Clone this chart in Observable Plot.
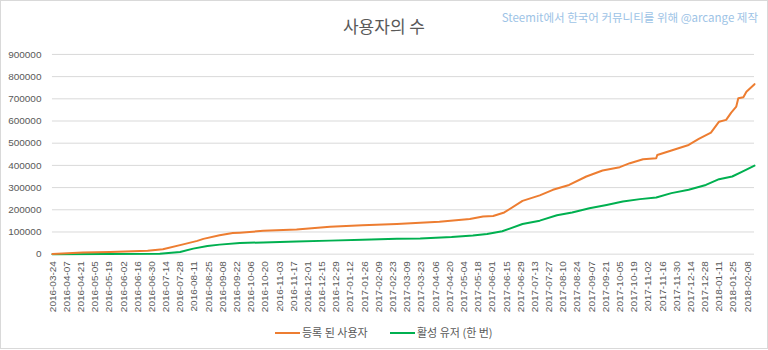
<!DOCTYPE html>
<html>
<head>
<meta charset="utf-8">
<script src="https://cdn.jsdelivr.net/npm/d3@7"></script>
<script src="https://cdn.jsdelivr.net/npm/@observablehq/plot@0.6"></script>
<style>
  body { margin: 0; background: #fff; }
  #wrap { position: relative; width: 768px; height: 349px; box-sizing: border-box; border: 1px solid #d9d9d9; overflow: hidden; font-family: "Noto Sans CJK KR", "Noto Sans", sans-serif; }
  #chart { position: absolute; left: -1px; top: -1px; }
  #title { position: absolute; left: -1px; top: 15px; width: 768px; text-align: center; font-size: 17px; line-height: 20px; color: #595959; }
  #credit { position: absolute; right: 9px; top: 9px; font-size: 11.5px; line-height: 14px; color: #9dc3e6; white-space: nowrap; }
  .leg { position: absolute; top: 323px; font-size: 11px; line-height: 16px; color: #595959; white-space: nowrap; }
  .leg span.sw { display: inline-block; width: 25px; height: 2px; vertical-align: middle; margin-right: 2px; position: relative; top: -1px; }
</style>
</head>
<body>
<div id="wrap">
  <div id="chart"></div>
  <div id="title"></div>
  <div id="credit"></div>
  <div class="leg" id="leg1" style="left:274px"></div>
  <div class="leg" id="leg2" style="left:389px"></div>
</div>
<script>
const chartTitle = "사용자의 수";
const creditText = "Steemit에서 한국어 커뮤니티를 위해 @arcange 제작";
const seriesNames = ["등록 된 사용자", "활성 유저 (한 번)"];
const seriesColors = ["#ed7d31", "#00b050"];

const registeredDates = [
  "2016-03-24","2016-04-03","2016-04-23","2016-05-20","2016-06-26","2016-07-11",
  "2016-07-31","2016-08-14","2016-08-20","2016-09-05","2016-09-18","2016-09-25",
  "2016-10-18","2016-11-20","2016-12-23","2017-01-24","2017-02-27","2017-03-22",
  "2017-04-10","2017-05-10","2017-05-23","2017-06-02","2017-06-13","2017-07-01",
  "2017-07-18","2017-07-31","2017-08-16","2017-09-02","2017-09-18","2017-10-05",
  "2017-10-15","2017-10-28","2017-11-10","2017-11-11","2017-11-25","2017-12-12",
  "2017-12-22","2018-01-03","2018-01-11","2018-01-18","2018-01-23","2018-01-28",
  "2018-01-30","2018-02-04","2018-02-07","2018-02-15"
];
const registeredUsers = [
  1000, 3000, 8000, 10000, 15000, 22000,
  44000, 60000, 69000, 85000, 95000, 97000,
  105000, 111000, 123000, 130000, 136000, 142000,
  146000, 158000, 170000, 172000, 188000, 240000,
  265000, 290000, 312000, 350000, 377000, 392000,
  410000, 428000, 432000, 447000, 467000, 492000,
  519000, 548000, 597000, 605000, 638000, 665000,
  703000, 707000, 732000, 766000
];

const activeDates = [
  "2016-03-24","2016-07-08","2016-07-28","2016-08-10","2016-08-24","2016-09-05",
  "2016-09-25","2016-10-18","2016-11-20","2016-12-23","2017-01-24","2017-02-27",
  "2017-03-22","2017-04-22","2017-05-13","2017-05-27","2017-06-11","2017-07-01",
  "2017-07-18","2017-08-04","2017-08-19","2017-09-05","2017-09-22","2017-10-08",
  "2017-10-25","2017-11-10","2017-11-25","2017-12-12","2017-12-29","2018-01-11",
  "2018-01-24","2018-02-03","2018-02-15"
];
const activeUsers = [
  0, 2000, 10000, 25000, 37000, 43000,
  50000, 53000, 57000, 61000, 65000, 69000,
  71000, 77000, 84000, 91000, 103000, 136000,
  151000, 175000, 188000, 207000, 222000, 237000,
  248000, 255000, 275000, 290000, 312000, 338000,
  350000, 372000, 399000
];

const xTickLabels = [
  "2016-03-24","2016-04-07","2016-04-21","2016-05-05","2016-05-19","2016-06-02","2016-06-16",
  "2016-06-30","2016-07-14","2016-07-28","2016-08-11","2016-08-25","2016-09-08","2016-09-22",
  "2016-10-06","2016-10-20","2016-11-03","2016-11-17","2016-12-01","2016-12-15","2016-12-29",
  "2017-01-12","2017-01-26","2017-02-09","2017-02-23","2017-03-09","2017-03-23","2017-04-06",
  "2017-04-20","2017-05-04","2017-05-18","2017-06-01","2017-06-15","2017-06-29","2017-07-13",
  "2017-07-27","2017-08-10","2017-08-24","2017-09-07","2017-09-21","2017-10-05","2017-10-19",
  "2017-11-02","2017-11-16","2017-11-30","2017-12-14","2017-12-28","2018-01-11","2018-01-25",
  "2018-02-08"
];
const yTicks = [0, 100000, 200000, 300000, 400000, 500000, 600000, 700000, 800000, 900000];
const xDomain = ["2016-03-24", "2018-02-15"];

const registeredRows = registeredDates.map((d, i) => ({date: new Date(d), value: registeredUsers[i]}));
const activeRows = activeDates.map((d, i) => ({date: new Date(d), value: activeUsers[i]}));
const xTicks = xTickLabels.map(s => new Date(s));

const chart = Plot.plot({
  width: 768,
  height: 320,
  marginTop: 54,
  marginBottom: 66,
  marginLeft: 52,
  marginRight: 13,
  style: {fontFamily: "'Liberation Sans', Arial, sans-serif", fontSize: "10px", color: "#595959", background: "transparent"},
  x: {type: "utc", domain: xDomain.map(s => new Date(s))},
  y: {domain: [0, 900000]},
  marks: [
    Plot.gridY(yTicks, {stroke: "#d9d9d9", strokeOpacity: 1, strokeWidth: 1}),
    Plot.axisY(yTicks, {tickSize: 0, tickPadding: 11, tickFormat: d => String(d), label: null, fill: "#595959"}),
    Plot.axisX(xTicks, {tickSize: 0, tickPadding: 7, tickRotate: -90, tickFormat: d3.utcFormat("%Y-%m-%d"), label: null, fill: "#595959"}),
    Plot.line(activeRows, {x: "date", y: "value", stroke: seriesColors[1], strokeWidth: 2}),
    Plot.line(registeredRows, {x: "date", y: "value", stroke: seriesColors[0], strokeWidth: 2})
  ]
});
document.getElementById("chart").appendChild(chart);
document.getElementById("title").textContent = chartTitle;
document.getElementById("credit").textContent = creditText;
[["leg1", 0], ["leg2", 1]].forEach(([id, i]) => {
  const el = document.getElementById(id);
  const sw = document.createElement("span");
  sw.className = "sw";
  sw.style.background = seriesColors[i];
  el.appendChild(sw);
  el.appendChild(document.createTextNode(seriesNames[i]));
});
</script>
</body>
</html>
